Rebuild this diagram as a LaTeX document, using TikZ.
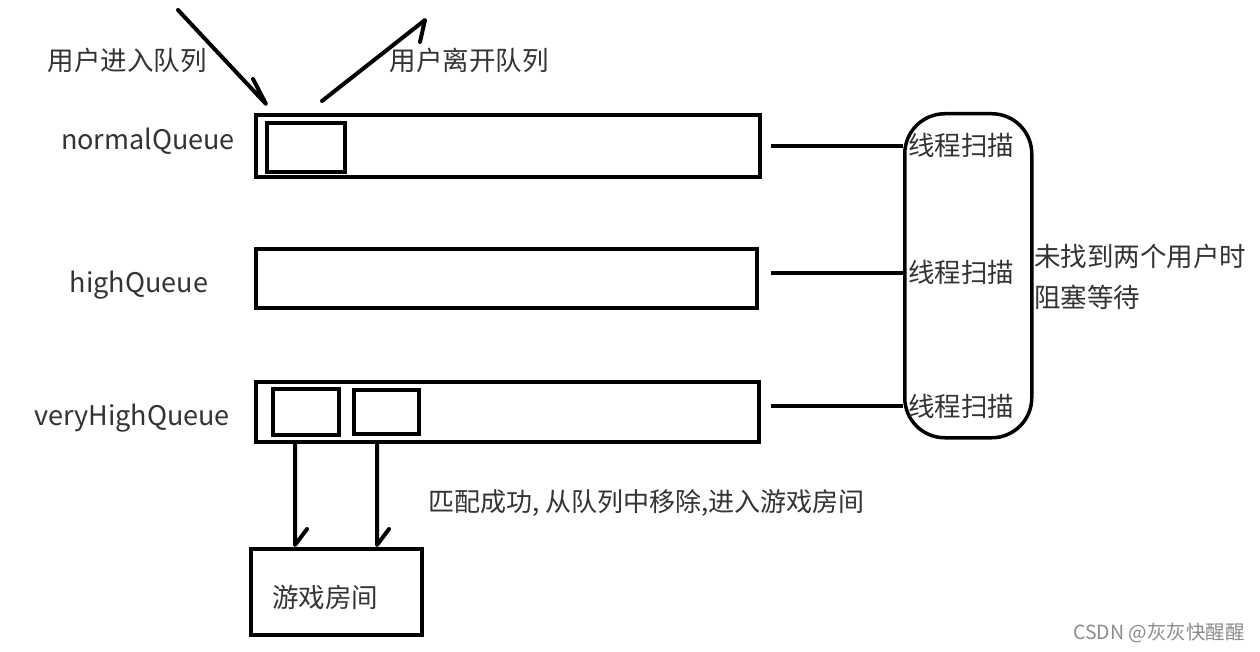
\documentclass[tikz,border=0pt]{standalone}
\usepackage{fontspec}
\setmainfont{Noto Sans CJK SC}
\begin{document}
\begin{tikzpicture}[x=1pt,y=-1pt,
  qbox/.style={draw, line width=4pt, inner sep=0, anchor=north west},
  sbox/.style={draw, line width=4pt, inner sep=0, anchor=north west},
  lbl/.style={inner sep=0, font=\fontsize{27}{30}\selectfont, text=black!80},
  cjk/.style={inner sep=0, font=\fontsize{26.5}{30}\selectfont, text=black!80},
  wire/.style={line width=4pt},
  hand/.style={line width=4pt, line cap=round, line join=round}]
\useasboundingbox (0,0) rectangle (1260,652);
\fill[white] (0,0) rectangle (1260,652);
% queues
\node[qbox, minimum width=504pt, minimum height=62pt] (nq) at (254,113) {};
\node[sbox, minimum width=78pt, minimum height=49pt] (nq1) at (265,121) {};
\node[qbox, minimum width=501pt, minimum height=59pt] (hq) at (254,247) {};
\node[qbox, minimum width=503pt, minimum height=60pt] (vq) at (254,380) {};
\node[sbox, minimum width=66pt, minimum height=46pt] (vq1) at (271,387) {};
\node[sbox, minimum width=65pt, minimum height=44pt] (vq2) at (352,388) {};
% labels
\node[lbl] (nql) at (148,141) {normalQueue};
\node[lbl] (hql) at (139,285) {highQueue};
\node[lbl] (vql) at (132,418) {veryHighQueue};
% capsule
\node[draw, line width=3.5pt, rounded corners=40pt, inner sep=0, anchor=north west,
      minimum width=127pt, minimum height=324pt] (cap) at (903,112) {};
\node[cjk] (t1) at (961,145) {线程扫描};
\node[cjk] (t2) at (961,272) {线程扫描};
\node[cjk] (t3) at (961,406) {线程扫描};
\node[cjk, anchor=west] (w1) at (1034,256) {未找到两个用户时};
\node[cjk, anchor=west] (w2) at (1034,297) {阻塞等待};
% connectors
\coordinate (c1) at (771,146);
\coordinate (c2) at (771,273);
\coordinate (c3) at (771,406);
\draw[wire] (c1) -- (cap.west |- c1);
\draw[wire] (c2) -- (cap.west |- c2);
\draw[wire] (c3) -- (cap.west |- c3);
% top arrows
\node[cjk] (enter) at (127,60) {用户进入队列};
\node[cjk] (leave) at (469,60) {用户离开队列};
\coordinate (e0) at (178,10);
\coordinate (e1) at (266,104);
\coordinate (e2) at (253,79);
\draw[hand] (e0) -- (e1) -- (e2);
\coordinate (l0) at (322,101);
\coordinate (l1) at (425,20);
\coordinate (l2) at (420,42);
\draw[hand] (l0) -- (l1) -- (l2);
% game room
\node[draw, line width=4pt, inner sep=0, anchor=north west,
      minimum width=171pt, minimum height=86pt] (room) at (249,547) {};
\node[cjk] (roomt) at (325,597) {游戏房间};
\node[inner sep=0, anchor=west, font=\fontsize{26}{30}\selectfont, text=black!80] (match) at (428,503) {匹配成功, 从队列中移除,进入游戏房间};
\coordinate (a1t) at (295,545);
\coordinate (a2t) at (377,545);
\draw[hand] (vq1.south -| a1t) ++(0,6) -- (a1t) -- ++(12,-16);
\draw[hand] (vq2.south -| a2t) ++(0,6) -- (a2t) -- ++(12,-16);
% watermark
\node[inner sep=0, anchor=east, font=\fontsize{19.5}{22}\selectfont, text=black!45] (wm) at (1245,633) {CSDN @灰灰快醒醒};
\end{tikzpicture}
\end{document}
